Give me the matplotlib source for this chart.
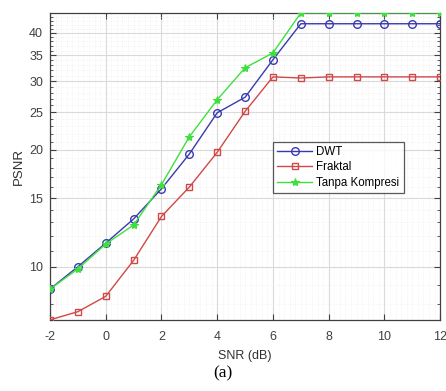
import numpy as np
import matplotlib
matplotlib.use("Agg")
import matplotlib.pyplot as plt
from matplotlib.ticker import FixedLocator, FixedFormatter, MultipleLocator, NullFormatter

plt.rcParams['font.family'] = ['Liberation Sans', 'DejaVu Sans']
plt.rcParams['axes.unicode_minus'] = False

snr = [-2, -1, 0, 1, 2, 3, 4, 5, 6, 7, 8, 9, 10, 11, 12]
psnr_dwt = [8.76, 10.0, 11.5, 13.27, 15.87, 19.5, 24.9, 27.3, 34.1, 42.2, 42.2, 42.2, 42.2, 42.2, 42.2]
psnr_fraktal = [7.3, 7.66, 8.39, 10.38, 13.47, 16.03, 19.7, 25.1, 30.8, 30.6, 30.8, 30.8, 30.8, 30.8, 30.8]
psnr_tanpa = [8.76, 9.87, 11.44, 12.8, 16.26, 21.6, 26.9, 32.5, 35.5, 45.0, 45.0, 45.0, 45.0, 45.0, 45.0]

xticks = [-2, 0, 2, 4, 6, 8, 10, 12]
yticks = [10, 15, 20, 25, 30, 35, 40]

fig = plt.figure(figsize=(4.46, 3.91), dpi=100)
ax = fig.add_axes([0.112, 0.182, 0.875, 0.785])

ax.plot(snr, psnr_dwt, color='#3a3ab0', lw=1.0, marker='o', ms=5.5,
        mfc='none', mec='#3a3ab0', mew=1.0, label='DWT', zorder=3)
ax.plot(snr, psnr_fraktal, color='#d04848', lw=1.0, marker='s', ms=4.5,
        mfc='none', mec='#d04848', mew=1.0, label='Fraktal', zorder=3)
ax.plot(snr, psnr_tanpa, color='#3ee03e', lw=1.0, marker='*', ms=6,
        mfc='#3ee03e', mec='#3ee03e', mew=0.8, label='Tanpa Kompresi', zorder=4)

ax.set_yscale('log')
ax.set_xlim(min(snr), max(snr))
ax.set_ylim(min(psnr_fraktal), max(psnr_tanpa))

ax.xaxis.set_major_locator(FixedLocator(xticks))
ax.xaxis.set_minor_locator(MultipleLocator(0.2))
ax.yaxis.set_major_locator(FixedLocator(yticks))
ax.yaxis.set_minor_locator(FixedLocator(np.arange(7, 46, 1)))
ax.yaxis.set_major_formatter(FixedFormatter([str(t) for t in yticks]))
ax.yaxis.set_minor_formatter(NullFormatter())

ax.grid(which='major', color='#dadada', lw=0.8, ls='-')
ax.grid(which='minor', color='#ececec', lw=0.5, ls=':')
ax.set_axisbelow(True)

ax.tick_params(which='both', direction='in', top=True, right=True,
               colors='#404040', labelsize=9, labelcolor='#404040')
ax.tick_params(which='major', length=4)
ax.tick_params(which='minor', length=2)
ax.tick_params(axis='x', which='minor', length=0)
ax.tick_params(axis='x', which='major', pad=8)
ax.tick_params(axis='y', which='major', pad=5)
for s in ax.spines.values():
    s.set_color('#404040')
    s.set_linewidth(0.9)

ax.set_xlabel('SNR (dB)', fontsize=9, color='#303030', labelpad=5)
ax.set_ylabel('PSNR', fontsize=9.5, color='#303030', labelpad=3)

leg = ax.legend(loc='upper left', bbox_to_anchor=(0.572, 0.58), fontsize=8.3,
                frameon=True, fancybox=False, edgecolor='#303030',
                handlelength=3.0, borderpad=0.35, labelspacing=0.3,
                handletextpad=0.4, borderaxespad=0)
leg.get_frame().set_linewidth(0.9)

fig.text(0.5, 0.046, '(a)', ha='center', va='center', fontsize=12.5,
         family=['Liberation Serif', 'DejaVu Serif'])

fig.savefig('out.png', dpi=100)
